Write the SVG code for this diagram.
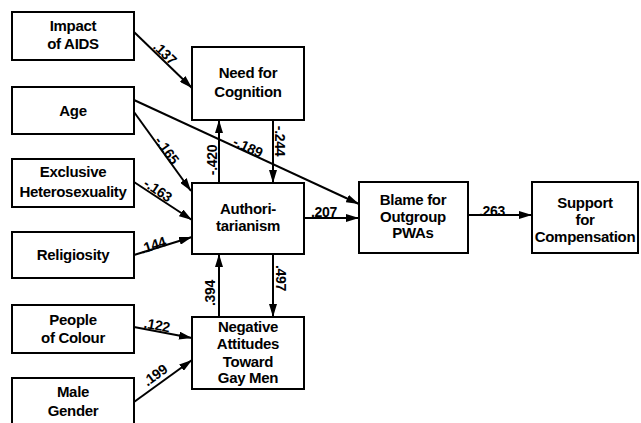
<svg xmlns="http://www.w3.org/2000/svg" width="641" height="423" viewBox="0 0 641 423">
<style>
.box{fill:#fff;stroke:#000;stroke-width:2}
.t{font-family:"Liberation Sans",Arial,sans-serif;font-weight:bold;font-size:15px;text-anchor:middle;fill:#000;letter-spacing:-0.3px}
.e{font-family:"Liberation Sans",Arial,sans-serif;font-weight:bold;font-size:14px;text-anchor:middle;fill:#000;letter-spacing:-0.3px}
.c{stroke:#000;stroke-width:2;fill:none;marker-end:url(#ah)}
</style>
<defs>
<marker id="ah" viewBox="0 0 13 8" refX="13" refY="4" markerWidth="13" markerHeight="8" markerUnits="userSpaceOnUse" orient="auto">
<path d="M0,0 L13,4 L0,8 z" fill="#000"/>
</marker>
</defs>
<rect width="641" height="423" fill="#fff"/>
<g id="connectors">
<line class="c" x1="134" y1="32" x2="192" y2="88"/>
<line class="c" x1="134" y1="100" x2="359" y2="204"/>
<line class="c" x1="134" y1="112" x2="191" y2="191"/>
<line class="c" x1="134" y1="182" x2="192" y2="220"/>
<line class="c" x1="134" y1="255" x2="192" y2="237"/>
<line class="c" x1="219" y1="183" x2="219" y2="120"/>
<line class="c" x1="273" y1="120" x2="273" y2="183"/>
<line class="c" x1="304" y1="218" x2="359" y2="218"/>
<line class="c" x1="273" y1="254" x2="273" y2="317"/>
<line class="c" x1="219" y1="317" x2="219" y2="254"/>
<line class="c" x1="134" y1="327" x2="192" y2="338"/>
<line class="c" x1="134" y1="402" x2="192" y2="360"/>
<line class="c" x1="468" y1="215" x2="532" y2="215"/>
<text class="e" transform="translate(165,53) rotate(44)" y="5">.137</text>
<text class="e" transform="translate(248,147) rotate(25)" y="5">-.189</text>
<text class="e" transform="translate(167,150) rotate(54)" y="5">-.165</text>
<text class="e" transform="translate(158,190) rotate(34)" y="5">-.163</text>
<text class="e" transform="translate(153,245) rotate(-18)" y="5">.144</text>
<text class="e" transform="translate(212,160) rotate(-90)" y="5">-.420</text>
<text class="e" transform="translate(280,141) rotate(90)" y="5">-.244</text>
<text class="e" transform="translate(324,212)" y="5">.207</text>
<text class="e" transform="translate(210,293) rotate(-90)" y="5">.394</text>
<text class="e" transform="translate(281,278) rotate(90)" y="5">.497</text>
<text class="e" transform="translate(157,325) rotate(10)" y="5">.122</text>
<text class="e" transform="translate(155,375) rotate(-36)" y="5">.199</text>
<text class="e" transform="translate(492,211)" y="5">.263</text>
</g>
<g id="impact"><rect class="box" x="12" y="12" width="122" height="48"/><text class="t" x="73" y="31">Impact</text><text class="t" x="73" y="49">of AIDS</text></g>
<g id="age"><rect class="box" x="12" y="87" width="122" height="47"/><text class="t" x="73" y="116">Age</text></g>
<g id="exhet"><rect class="box" x="12" y="159" width="122" height="48"/><text class="t" x="73" y="177">Exclusive</text><text class="t" x="73" y="197">Heterosexuality</text></g>
<g id="relig"><rect class="box" x="12" y="232" width="122" height="46"/><text class="t" x="73" y="260">Religiosity</text></g>
<g id="poc"><rect class="box" x="12" y="305" width="122" height="48"/><text class="t" x="73" y="325">People</text><text class="t" x="73" y="343">of Colour</text></g>
<g id="male"><rect class="box" x="12" y="378" width="122" height="50"/><text class="t" x="73" y="397">Male</text><text class="t" x="73" y="416">Gender</text></g>
<g id="nfc"><rect class="box" x="192" y="47" width="112" height="73"/><text class="t" x="248" y="78">Need for</text><text class="t" x="248" y="97">Cognition</text></g>
<g id="auth"><rect class="box" x="192" y="183" width="112" height="71"/><text class="t" x="248" y="214">Authori-</text><text class="t" x="248" y="231">tarianism</text></g>
<g id="neg"><rect class="box" x="192" y="317" width="112" height="72"/><text class="t" x="248" y="332">Negative</text><text class="t" x="248" y="349">Attitudes</text><text class="t" x="248" y="367">Toward</text><text class="t" x="248" y="383">Gay Men</text></g>
<g id="blame"><rect class="box" x="359" y="182" width="109" height="71"/><text class="t" x="413" y="205">Blame for</text><text class="t" x="413" y="222">Outgroup</text><text class="t" x="413" y="238">PWAs</text></g>
<g id="support"><rect class="box" x="532" y="182" width="106" height="71"/><text class="t" x="585" y="208">Support</text><text class="t" x="585" y="225">for</text><text class="t" x="585" y="242">Compensation</text></g>
</svg>
